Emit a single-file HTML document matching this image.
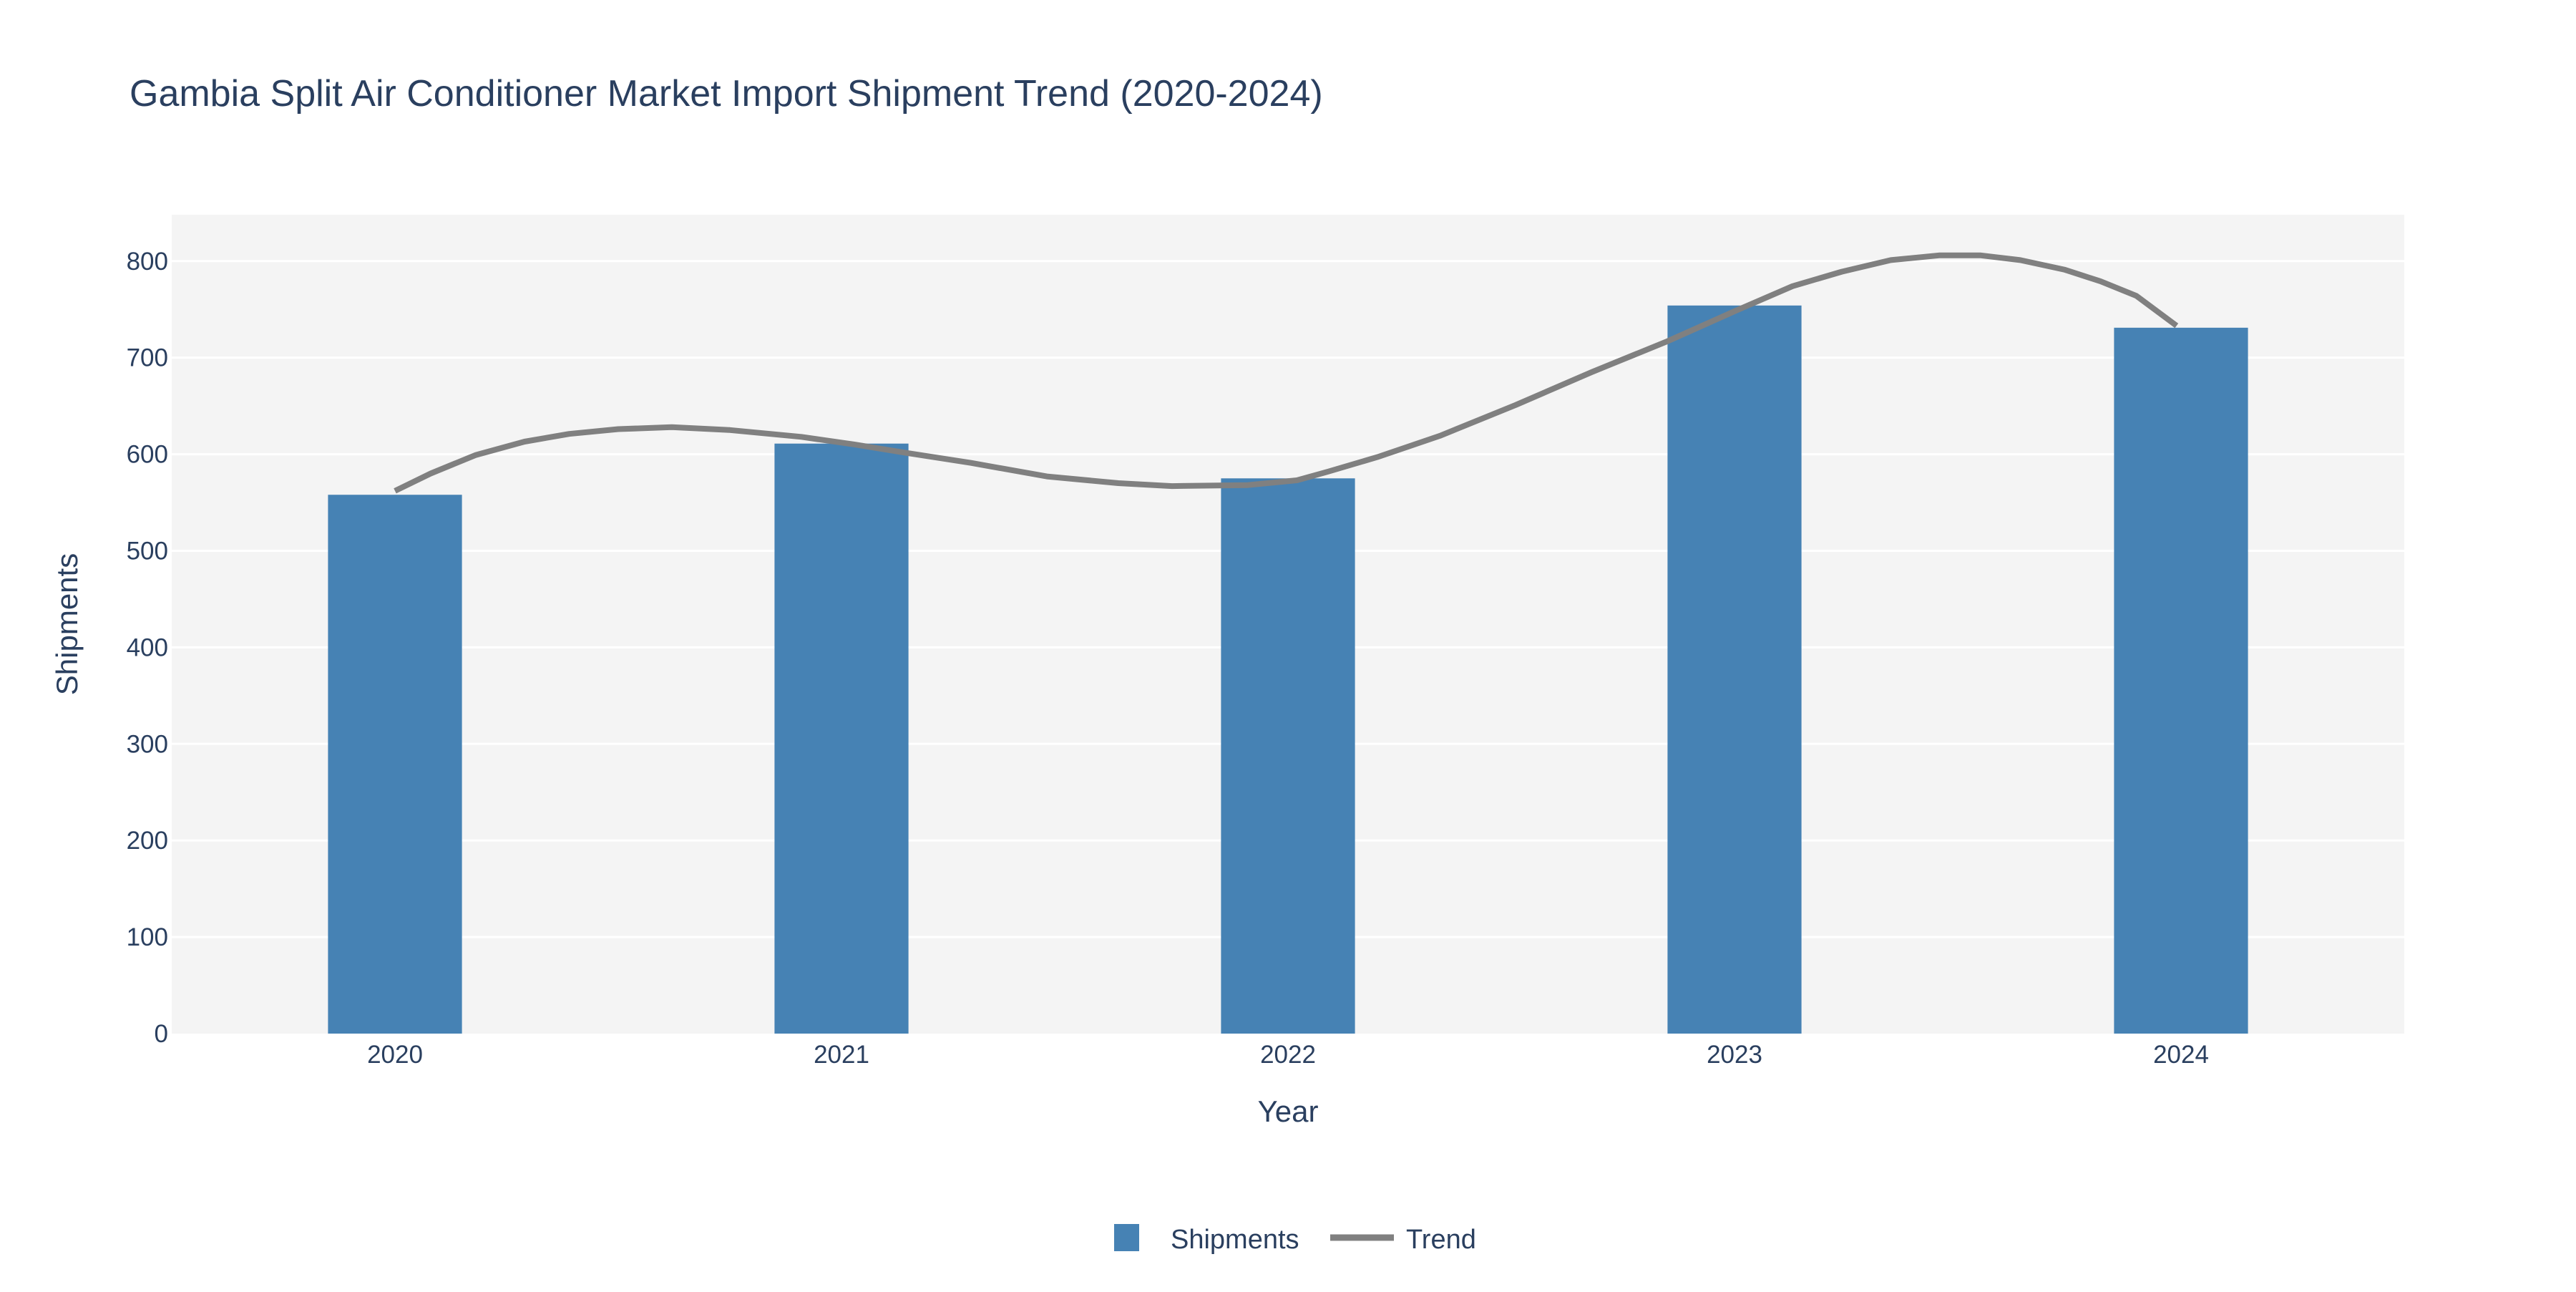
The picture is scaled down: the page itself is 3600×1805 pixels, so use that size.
<!DOCTYPE html>
<html><head><meta charset="utf-8"><style>
body{margin:0;background:#fff}
svg text{font-family:"Liberation Sans","DejaVu Sans",sans-serif;fill:#2a3f5f}
</style></head><body>
<svg id="chart" width="3600" height="1800" viewBox="0 0 3600 1800" xmlns="http://www.w3.org/2000/svg">
<rect width="3600" height="1800" fill="#fff"/>
<text x="181" y="148" font-size="52">Gambia Split Air Conditioner Market Import Shipment Trend (2020-2024)</text>
<rect x="240" y="300" width="3120" height="1144" fill="#f4f4f4"/>
<g id="grid"></g>
<g id="bars"></g>
<g id="trend"></g>
<g id="yticks"></g>
<g id="xticks"></g>
<text transform="translate(108,872) rotate(-90)" text-anchor="middle" font-size="42">Shipments</text>
<text x="1800" y="1567" text-anchor="middle" font-size="42">Year</text>
<g>
<g>
<rect x="1557" y="1710" width="35" height="38" fill="#4682b4"/>
<text x="1636" y="1744" font-size="38">Shipments</text></g>
<g>
<line x1="1859" y1="1729" x2="1948" y2="1729" stroke="#808080" stroke-width="9"/>
<text x="1965" y="1744" font-size="38">Trend</text></g>
</g>
</svg>
<script>
const categories=["2020","2021","2022","2023","2024"];
const shipments=[558,611,575,754,731];
const trendX=[2020.00,2020.08,2020.18,2020.29,2020.39,2020.50,2020.62,2020.75,2020.91,2021.03,2021.15,2021.29,2021.46,2021.62,2021.74,2021.91,2022.02,2022.09,2022.20,2022.34,2022.51,2022.68,2022.85,2023.00,2023.13,2023.24,2023.35,2023.46,2023.55,2023.64,2023.74,2023.82,2023.90,2023.99];
const trendY=[562,580,599,613,621,626,628,625,618,610,601,591,577,570,567,568,573,582,597,619,651,685,717,748,774,789,801,806,806,801,791,779,764,733];
const yTicks=[0,100,200,300,400,500,600,700,800];
const NS="http://www.w3.org/2000/svg";
const L=240,R=3360,T=300,B=1444,YMAX=848;
const step=(R-L)/categories.length;
function xPos(i){return L+step*(i+0.5);}
function yPos(v){return B-(v/YMAX)*(B-T);}
function mk(tag,attrs,parent){const e=document.createElementNS(NS,tag);for(const k in attrs)e.setAttribute(k,attrs[k]);parent.appendChild(e);return e;}
const grid=document.getElementById('grid'),bars=document.getElementById('bars'),tr=document.getElementById('trend'),yt=document.getElementById('yticks'),xt=document.getElementById('xticks');
yTicks.forEach(v=>{
  if(v>0){const g=mk('line',{x1:L,x2:R,y1:yPos(v),y2:yPos(v),stroke:'#ffffff','stroke-width':3},grid);
  
  }
  const t=mk('text',{x:235,y:yPos(v)+12,'text-anchor':'end','font-size':35},yt);
  t.textContent=v;
  
  
});
const bw=step*0.3;
categories.forEach((c,i)=>{
  const r=mk('rect',{x:xPos(i)-bw/2,y:yPos(shipments[i]),width:bw,height:B-yPos(shipments[i]),fill:'#4682b4'},bars);
  
  
  const t=mk('text',{x:xPos(i),y:1485,'text-anchor':'middle','font-size':35},xt);
  t.textContent=c;
  
  
});
const d=trendX.map((x,i)=>(i?'L':'M')+xPos(x-2020).toFixed(1)+','+yPos(trendY[i]).toFixed(1)).join(' ');
const p=mk('path',{d:d,fill:'none',stroke:'#808080','stroke-width':8,'stroke-linejoin':'round'},tr);


</script>
</body></html>
